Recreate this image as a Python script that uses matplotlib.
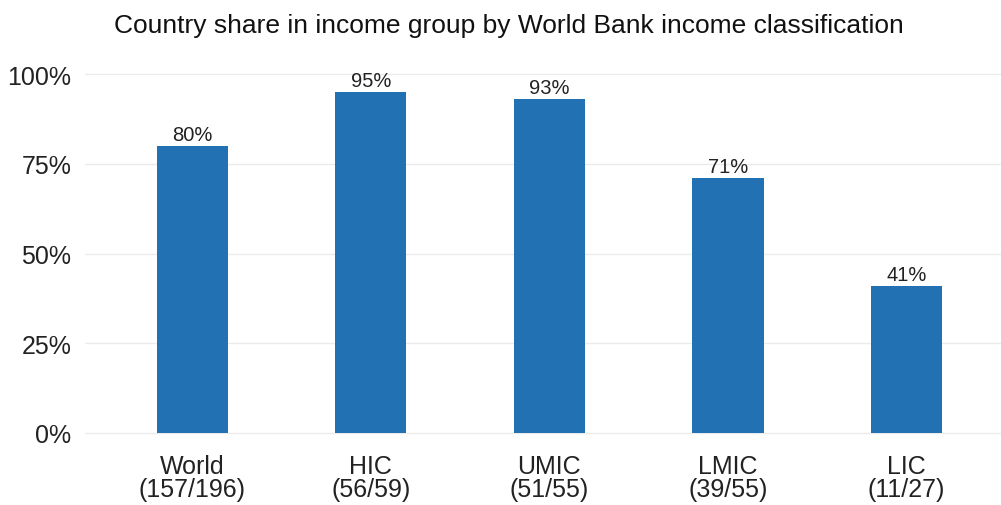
import matplotlib
matplotlib.use("Agg")
import matplotlib.pyplot as plt
from matplotlib.ticker import FuncFormatter

plt.rcParams['font.family'] = ['Liberation Sans', 'DejaVu Sans']

# data
groups = ["World", "HIC", "UMIC", "LMIC", "LIC"]
counts = ["(157/196)", "(56/59)", "(51/55)", "(39/55)", "(11/27)"]
share = [0.80, 0.95, 0.93, 0.71, 0.41]

fig = plt.figure(figsize=(10.01, 5.06), dpi=100)
ax = fig.add_axes([0.085, 0.107, 0.915, 0.780])

x = list(range(len(groups)))
ax.bar(x, share, width=0.4, color="#2271B3", zorder=2)
for xi, v in zip(x, share):
    ax.text(xi, v + 0.006, f"{round(v*100)}%", ha="center", va="bottom",
            fontsize=14.5, color="#222222")

ax.set_xlim(-0.6, 4.53)
ax.set_ylim(-0.05, 1.05)
ax.set_yticks([0, 0.25, 0.5, 0.75, 1.0])
ax.yaxis.set_major_formatter(FuncFormatter(lambda v, p: f"{round(v*100)}%"))
ax.set_xticks(x)
ax.set_xticklabels([f"{g}\n{c}" for g, c in zip(groups, counts)],
                   linespacing=0.95)
ax.tick_params(axis="both", length=0, labelsize=18, labelcolor="#222222")
ax.tick_params(axis="x", pad=2)
ax.tick_params(axis="y", pad=10)
ax.grid(axis="y", color="#EBEBEB", linewidth=1.0, zorder=0)
for s in ax.spines.values():
    s.set_visible(False)

fig.text(0.508, 0.948, "Country share in income group by World Bank income classification",
         ha="center", va="center", fontsize=19, color="#111111")

fig.savefig("out.png", dpi=100)
